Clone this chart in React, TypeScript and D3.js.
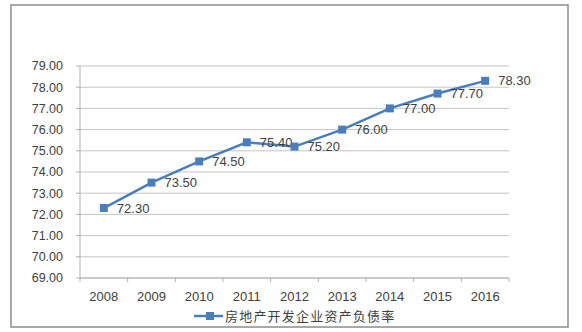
import React from "react";
import * as d3 from "d3";

const years = ["2008", "2009", "2010", "2011", "2012", "2013", "2014", "2015", "2016"];
const values = [72.3, 73.5, 74.5, 75.4, 75.2, 76.0, 77.0, 77.7, 78.3];
const yTicks = [69, 70, 71, 72, 73, 74, 75, 76, 77, 78, 79];
const seriesName = "房地产开发企业资产负债率";

const W = 582;
const H = 332;
const left = 80;
const right = 509;
const top = 66;
const bottom = 278;
const blue = "#4A7EBB";
const textColor = "#404040";
const font = "'Liberation Sans', Arial, sans-serif";

export default function App() {
  const x = d3.scaleBand<string>().domain(years).range([left, right]);
  const y = d3.scaleLinear().domain([69, 79]).range([bottom, top]);
  const line = d3
    .line<number>()
    .x((_, i) => (x(years[i]) as number) + x.bandwidth() / 2)
    .y((d) => y(d));
  const boundaries = years.map((yr) => x(yr) as number).concat([right]);

  return (
    <svg
      width={W}
      height={H}
      style={{ position: "absolute", left: 0, top: 0, background: "#fff" }}
    >
      <rect x={11} y={5} width={557} height={322} fill="#fff" stroke="#8c8c8c" strokeWidth={1.5} />
      {yTicks.map((t) => (
        <g key={t}>
          <line x1={left} x2={right} y1={y(t)} y2={y(t)} stroke="#c4c4c4" strokeWidth={1} />
          <line x1={left - 4} x2={left} y1={y(t)} y2={y(t)} stroke="#b0b0b0" strokeWidth={1} />
          <text
            x={63}
            y={y(t)}
            dy="0.35em"
            textAnchor="end"
            fontFamily={font}
            fontSize={12.5}
            fill={textColor}
          >
            {t.toFixed(2)}
          </text>
        </g>
      ))}
      <line x1={left} x2={left} y1={top} y2={bottom} stroke="#b0b0b0" strokeWidth={1} />
      <line x1={left} x2={right} y1={bottom} y2={bottom} stroke="#b0b0b0" strokeWidth={1} />
      {boundaries.map((bx, i) => (
        <line key={i} x1={bx} x2={bx} y1={bottom} y2={bottom + 4} stroke="#b0b0b0" strokeWidth={1} />
      ))}
      {years.map((yr) => (
        <text
          key={yr}
          x={(x(yr) as number) + x.bandwidth() / 2}
          y={296}
          dy="0.35em"
          textAnchor="middle"
          fontFamily={font}
          fontSize={13}
          fill={textColor}
        >
          {yr}
        </text>
      ))}
      <path d={line(values) || ""} fill="none" stroke={blue} strokeWidth={2.5} />
      {values.map((v, i) => {
        const cx = (x(years[i]) as number) + x.bandwidth() / 2;
        const cy = y(v);
        return (
          <g key={i}>
            <rect x={cx - 4} y={cy - 4} width={8} height={8} fill={blue} />
            <text
              x={cx + 13}
              y={cy}
              dy="0.35em"
              fontFamily={font}
              fontSize={13}
              fill={textColor}
            >
              {v.toFixed(2)}
            </text>
          </g>
        );
      })}
      <g>
        <line x1={194} x2={223} y1={316} y2={316} stroke={blue} strokeWidth={2.5} />
        <rect x={206} y={312} width={8} height={8} fill={blue} />
        <text
          x={225}
          y={316}
          dy="0.35em"
          fontFamily="'Noto Sans CJK SC', sans-serif"
          fontSize={13}
          letterSpacing={1.2}
          fill={textColor}
        >
          {seriesName}
        </text>
      </g>
    </svg>
  );
}
